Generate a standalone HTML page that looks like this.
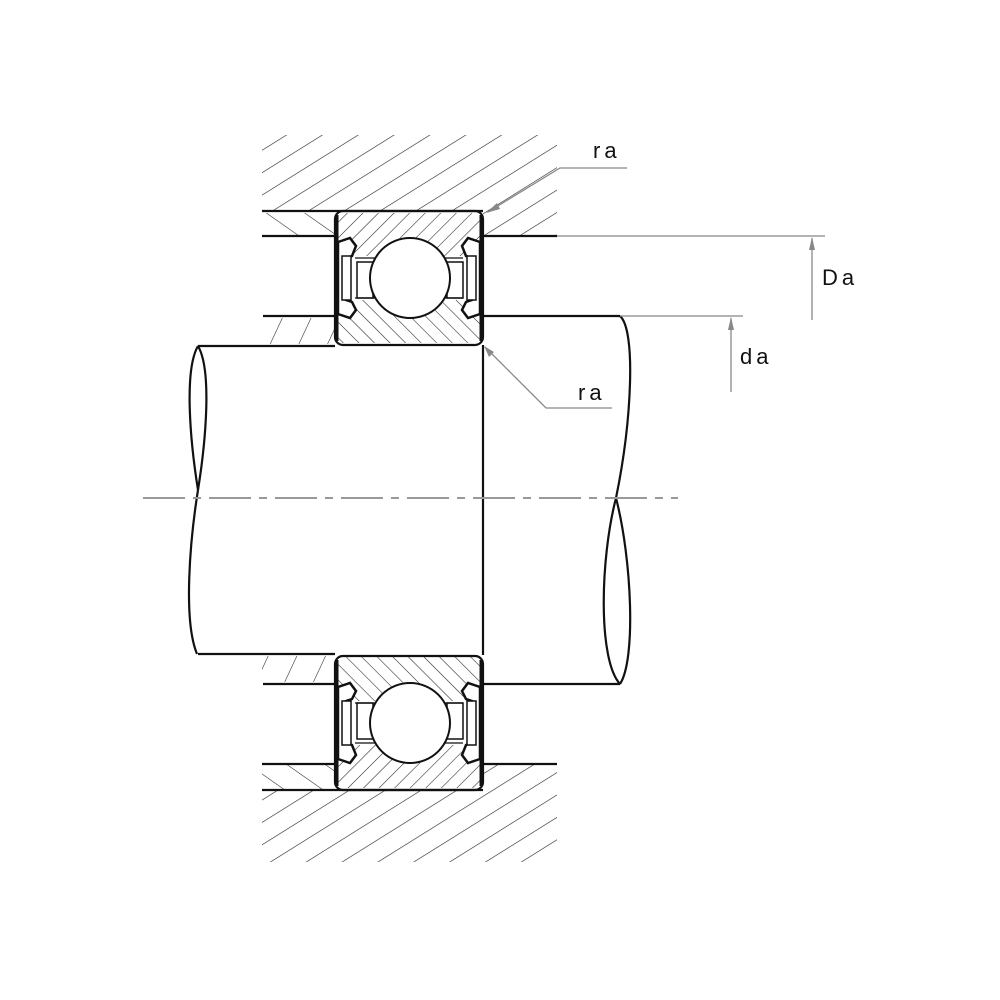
<!DOCTYPE html>
<html><head><meta charset="utf-8"><style>html,body{margin:0;padding:0;background:#fff}svg{display:block}</style></head>
<body>
<svg width="1000" height="1000" viewBox="0 0 1000 1000" xmlns="http://www.w3.org/2000/svg">
<defs>
<pattern id="hh" patternUnits="userSpaceOnUse" width="19" height="19" patternTransform="rotate(58)">
<line x1="0" y1="0" x2="0" y2="19" stroke="#222" stroke-width="1.2"/>
</pattern>
<pattern id="rf" patternUnits="userSpaceOnUse" width="11" height="11" patternTransform="rotate(45)">
<line x1="0" y1="0" x2="0" y2="11" stroke="#222" stroke-width="1.1"/>
</pattern>
<pattern id="rb" patternUnits="userSpaceOnUse" width="11" height="11" patternTransform="rotate(-45)">
<line x1="0" y1="0" x2="0" y2="11" stroke="#222" stroke-width="1.1"/>
</pattern>
<pattern id="sb" patternUnits="userSpaceOnUse" width="22" height="22" patternTransform="rotate(-55)">
<line x1="0" y1="0" x2="0" y2="22" stroke="#222" stroke-width="1.1"/>
</pattern>
<pattern id="sf" patternUnits="userSpaceOnUse" width="26" height="26" patternTransform="rotate(25)">
<line x1="0" y1="0" x2="0" y2="26" stroke="#222" stroke-width="1.1"/>
</pattern>
<g id="brg">
<rect x="355" y="256" width="108" height="44" fill="#fff"/>
<rect x="335" y="211" width="148" height="134" rx="8" fill="none" stroke="#111" stroke-width="2.2"/>
<path d="M338,242 L350,238 L356,246 L352,256 L346,258 L346,300 L352,302 L356,310 L350,318 L338,314 Z" fill="#fff" stroke="#111" stroke-width="2.5"/>
<rect x="342" y="256" width="9" height="44" fill="#fff" stroke="#111" stroke-width="1.5"/>
<path d="M480,242 L468,238 L462,246 L466,256 L472,258 L472,300 L466,302 L462,310 L468,318 L480,314 Z" fill="#fff" stroke="#111" stroke-width="2.5"/>
<rect x="467" y="256" width="9" height="44" fill="#fff" stroke="#111" stroke-width="1.5"/>
<line x1="337" y1="215" x2="337" y2="341" stroke="#111" stroke-width="3"/>
<line x1="481" y1="215" x2="481" y2="341" stroke="#111" stroke-width="3"/>
<rect x="357" y="262" width="16" height="36" fill="#fff" stroke="#111" stroke-width="1.5"/>
<rect x="447" y="262" width="16" height="36" fill="#fff" stroke="#111" stroke-width="1.5"/>
<line x1="355" y1="258" x2="463" y2="258" stroke="#111" stroke-width="1.2"/>
<line x1="355" y1="298" x2="463" y2="298" stroke="#111" stroke-width="1.2"/>
<circle cx="410" cy="278" r="40" fill="#fff" stroke="#111" stroke-width="2"/>
</g>
</defs>

<rect x="262" y="135" width="295" height="76" fill="url(#hh)"/>
<rect x="483" y="211" width="74" height="25" fill="url(#hh)"/>
<rect x="262" y="213" width="73" height="22" fill="url(#sb)"/>
<rect x="262" y="318" width="73" height="26" fill="url(#sf)"/>
<rect x="262" y="790" width="295" height="72" fill="url(#hh)"/>
<rect x="483" y="764" width="74" height="26" fill="url(#hh)"/>
<rect x="262" y="765" width="73" height="24" fill="url(#sb)"/>
<rect x="262" y="656" width="73" height="26" fill="url(#sf)"/>
<rect x="337" y="213" width="144" height="45" fill="url(#rf)"/>
<rect x="337" y="298" width="144" height="45" fill="url(#rb)"/>
<rect x="337" y="657" width="144" height="45" fill="url(#rb)"/>
<rect x="337" y="742" width="144" height="46" fill="url(#rf)"/>

<g stroke="#111" stroke-width="2.2" fill="none">
<line x1="262" y1="211" x2="483" y2="211"/>
<line x1="262" y1="236" x2="335" y2="236"/>
<line x1="483" y1="236" x2="557" y2="236"/>
<line x1="263" y1="316" x2="335" y2="316"/>
<line x1="483" y1="316" x2="620" y2="316"/>
<line x1="198" y1="346" x2="335" y2="346"/>
<line x1="198" y1="654" x2="335" y2="654"/>
<line x1="263" y1="684" x2="335" y2="684"/>
<line x1="483" y1="684" x2="620" y2="684"/>
<line x1="262" y1="764" x2="335" y2="764"/>
<line x1="483" y1="764" x2="557" y2="764"/>
<line x1="262" y1="790" x2="483" y2="790"/>
<line x1="483" y1="345" x2="483" y2="655"/>
<path d="M198,346 C184,370 190,440 198,490"/>
<path d="M198,346 C212,370 206,440 198,490"/>
<path d="M198,490 C190,540 183,620 197,654"/>
<path d="M620,316 C636,330 632,420 616,498"/>
<path d="M616,498 C600,560 598,660 620,684"/>
<path d="M616,498 C632,560 636,660 620,684"/>
</g>

<use href="#brg"/>
<use href="#brg" transform="translate(0,1000) scale(1,-1) translate(0,-1)"/>

<line x1="143" y1="498" x2="678" y2="498" stroke="#999" stroke-width="2" stroke-dasharray="42,8,8,8"/>

<g stroke="#888" stroke-width="1.3" fill="none">
<line x1="557" y1="236" x2="825" y2="236"/>
<line x1="620" y1="316" x2="743" y2="316"/>
<line x1="812" y1="238" x2="812" y2="320"/>
<line x1="731" y1="318" x2="731" y2="392"/>
<polyline points="488,212 560,168 627,168"/>
<polyline points="485,347 546,408 612,408"/>
</g>
<g fill="#888">
<polygon points="812,237 809,250 815,250"/>
<polygon points="731,317 728,330 734,330"/>
<polygon points="486,213 497,203 500,209"/>
<polygon points="484,346 489,357 494,352"/>
</g>
<g font-family="Liberation Sans, sans-serif" font-size="22" fill="#111" letter-spacing="4">
<text x="593" y="158">ra</text>
<text x="578" y="400">ra</text>
<text x="822" y="285">Da</text>
<text x="740" y="364">da</text>
</g>
</svg>
</body></html>
